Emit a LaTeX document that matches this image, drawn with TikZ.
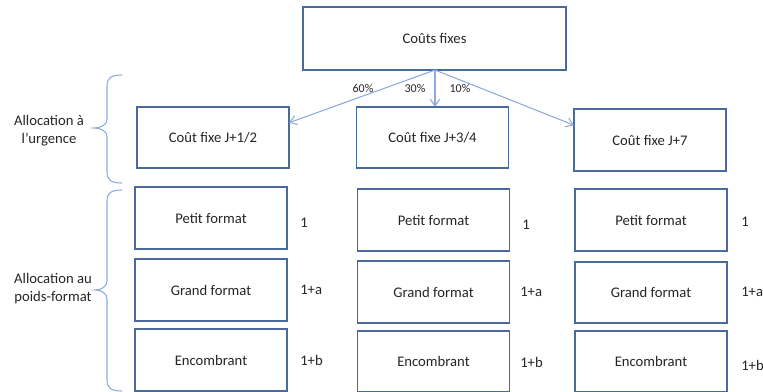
\documentclass[tikz,border=0pt]{standalone}
\usepackage{fontspec}
\setmainfont{Carlito}
\usetikzlibrary{arrows.meta}
\definecolor{boxc}{HTML}{4A6A9A}
\definecolor{arrc}{HTML}{8EAADC}
\definecolor{txtc}{HTML}{262626}
\begin{document}
\begin{tikzpicture}[x=0.75pt,y=-0.75pt,
  every node/.style={text=txtc,font=\fontsize{11}{13.5}\selectfont},
  cbox/.style={draw=boxc,line width=1.4pt,fill=white,inner sep=0pt,outer sep=0pt,
    minimum width=114pt,minimum height=46pt},
  arr/.style={draw=arrc,line width=0.8pt,-{Straight Barb[length=5pt,width=7pt]}},
  brc/.style={draw=arrc,line width=0.8pt},
  pct/.style={font=\fontsize{9}{11}\selectfont},
  wgt/.style={anchor=west,inner sep=0pt}]
\useasboundingbox (0,0) rectangle (763,392);
% top
\node[cbox,minimum width=197pt,minimum height=47pt] (top) at (434.5,38.5) {Coûts fixes};
% urgency row
\node[cbox] (l1) at (213,137.5) {Coût fixe J+1/2};
\node[cbox] (l2) at (432.5,137.5) {Coût fixe J+3/4};
\node[cbox] (l3) at (650,140) {Coût fixe J+7};
\coordinate (src) at (435,70);
\draw[arr] (src) -- (l1.11);
\draw[arr] (src) -- (l2.north -| src);
\draw[arr] (src) -- (l3.169);
\node[pct] (p60) at (363,88) {60\%};
\node[pct] (p30) at (415,88) {30\%};
\node[pct] (p10) at (460,88) {10\%};
% column 1
\node[cbox] (a1) at (211,218) {Petit format};
\node[cbox] (a2) at (211,290) {Grand format};
\node[cbox] (a3) at (211,360) {Encombrant};
% column 2
\node[cbox] (b1) at (433.5,220) {Petit format};
\node[cbox] (b2) at (433.5,292) {Grand format};
\node[cbox] (b3) at (433.5,361.5) {Encombrant};
% column 3
\node[cbox] (c1) at (651,220) {Petit format};
\node[cbox] (c2) at (651,292.5) {Grand format};
\node[cbox] (c3) at (651,361.5) {Encombrant};
% weights
\node[wgt] (wa1) at (300,223) {1};
\node[wgt] (wa2) at (300,290) {1+a};
\node[wgt] (wa3) at (300,360) {1+b};
\node[wgt] (wb1) at (522,225) {1};
\node[wgt] (wb2) at (520,292) {1+a};
\node[wgt] (wb3) at (520,362) {1+b};
\node[wgt] (wc1) at (741,222) {1};
\node[wgt] (wc2) at (741,292) {1+a};
\node[wgt] (wc3) at (741,365) {1+b};
% braces
\draw[brc] (122,75) .. controls (111,75) and (107,78) .. (107,86) -- (107,119)
  .. controls (107,125) and (101,128) .. (94,128)
  .. controls (101,128) and (107,131) .. (107,137) -- (107,172)
  .. controls (107,180) and (111,183) .. (122,183);
\draw[brc] (122,190) .. controls (111,190) and (107,193) .. (107,201) -- (107,281)
  .. controls (107,287) and (101,290) .. (95,290)
  .. controls (101,290) and (107,293) .. (107,299) -- (107,380)
  .. controls (107,388) and (111,391) .. (122,391);
% side labels
\node[align=center] (lab1) at (49,131) {Allocation à\\l’urgence};
\node[align=center] (lab2) at (53,289) {Allocation au\\poids-format};
\end{tikzpicture}
\end{document}
